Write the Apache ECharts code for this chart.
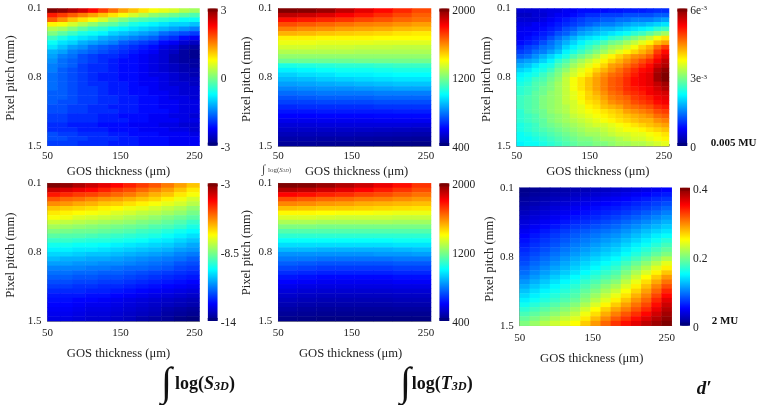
<!DOCTYPE html>
<html><head><meta charset="utf-8">
<style>html,body{margin:0;padding:0;background:#fff}#c{width:763px;height:405px}</style>
<script src="https://cdn.jsdelivr.net/npm/echarts@6/dist/echarts.min.js"></script>
</head><body><div id="c"></div>
<script>
const xTicks=[50,150,250], yTicks=[0.1,0.8,1.5];
const xName='GOS thickness (μm)', yName='Pixel pitch (mm)';
const jet=['#00007f','#0000ff','#007fff','#00ffff','#7fff7f','#ffff00','#ff7f00','#ff0000','#7f0000'];

const logS3DTop=[
[3,2.9,2.7,2.5,2.2,1.9,1.6,1.3,1.1,.9,.7,.6,.5,.3,.2],
[2.1,1.9,1.7,1.5,1.3,1.1,.9,.7,.5,.3,.1,0,-.1,-.2,-.3],
[1.7,1.4,1.1,.9,.7,.5,.2,0,-.2,-.3,-.4,-.5,-.6,-.7,-.7],
[.8,.7,.5,.3,.1,-.1,-.2,-.4,-.6,-.7,-.8,-.9,-1,-1,-1.1],
[.3,.2,0,-.2,-.4,-.5,-.7,-.8,-.9,-1,-1.1,-1.2,-1.3,-1.4,-1.5],
[0,-.2,-.4,-.6,-.7,-.8,-1,-1.1,-1.2,-1.3,-1.4,-1.6,-1.7,-1.8,-1.9],
[-.4,-.6,-.8,-.9,-1,-1.2,-1.3,-1.4,-1.5,-1.6,-1.7,-1.9,-2,-2.2,-2.3],
[-.7,-.9,-1,-1.2,-1.3,-1.4,-1.5,-1.7,-1.8,-1.9,-2,-2.2,-2.3,-2.5,-2.6],
[-.9,-1.1,-1.3,-1.4,-1.6,-1.7,-1.8,-1.9,-2,-2.1,-2.2,-2.4,-2.5,-2.7,-2.8],
[-1.2,-1.3,-1.5,-1.6,-1.7,-1.8,-1.9,-2,-2.1,-2.2,-2.3,-2.5,-2.6,-2.8,-2.9],
[-1.3,-1.5,-1.6,-1.8,-1.9,-2,-2,-2.1,-2.2,-2.3,-2.4,-2.5,-2.7,-2.8,-2.9],
[-1.4,-1.6,-1.7,-1.8,-1.9,-2,-2.1,-2.2,-2.2,-2.3,-2.4,-2.5,-2.7,-2.8,-2.8],
[-1.5,-1.6,-1.7,-1.9,-2,-2,-2.1,-2.2,-2.2,-2.3,-2.4,-2.5,-2.6,-2.7,-2.8],
[-1.5,-1.7,-1.8,-1.9,-2,-2,-2.1,-2.2,-2.2,-2.3,-2.4,-2.5,-2.6,-2.7,-2.7],
[-1.6,-1.7,-1.8,-1.9,-2,-2.1,-2.1,-2.2,-2.2,-2.3,-2.4,-2.4,-2.5,-2.6,-2.7]];
const logS3DLow=[
[-1.6,-1.7,-1.8,-1.9,-2,-2.1,-2.1,-2.2,-2.2,-2.3,-2.3,-2.4,-2.5,-2.6,-2.6],
[-1.6,-1.7,-1.8,-1.9,-2,-2,-2.1,-2.1,-2.2,-2.3,-2.3,-2.4,-2.5,-2.5,-2.6],
[-1.6,-1.7,-1.8,-1.9,-1.9,-2,-2.1,-2.1,-2.2,-2.2,-2.3,-2.4,-2.4,-2.5,-2.5],
[-1.7,-1.7,-1.8,-1.9,-1.9,-2,-2.1,-2.1,-2.2,-2.2,-2.3,-2.3,-2.4,-2.5,-2.5],
[-1.7,-1.7,-1.8,-1.9,-1.9,-2,-2,-2.1,-2.1,-2.2,-2.2,-2.3,-2.4,-2.4,-2.5],
[-1.7,-1.8,-1.8,-1.9,-1.9,-2,-2,-2.1,-2.1,-2.2,-2.2,-2.3,-2.3,-2.4,-2.4],
[-1.8,-1.8,-1.9,-1.9,-2,-2,-2.1,-2.1,-2.1,-2.2,-2.2,-2.3,-2.3,-2.4,-2.4],
[-1.8,-1.8,-1.9,-1.9,-2,-2,-2,-2.1,-2.1,-2.2,-2.2,-2.2,-2.3,-2.4,-2.4],
[-1.9,-1.9,-2,-2,-2,-2.1,-2.1,-2.2,-2.2,-2.2,-2.3,-2.3,-2.4,-2.4,-2.5],
[-1.9,-1.9,-2,-2,-2,-2.1,-2.1,-2.1,-2.2,-2.2,-2.3,-2.3,-2.3,-2.4,-2.4],
[-2,-2,-2.1,-2.1,-2.1,-2.2,-2.2,-2.2,-2.3,-2.3,-2.3,-2.4,-2.4,-2.5,-2.5],
[-2,-2,-2,-2.1,-2.1,-2.1,-2.2,-2.2,-2.2,-2.3,-2.3,-2.3,-2.4,-2.4,-2.5],
[-1.8,-1.9,-1.9,-2,-2,-2,-2.1,-2.1,-2.2,-2.2,-2.2,-2.3,-2.3,-2.3,-2.4],
[-1.8,-1.8,-1.9,-1.9,-2,-2,-2,-2.1,-2.1,-2.2,-2.2,-2.2,-2.3,-2.3,-2.3],
[-1.9,-1.9,-1.9,-2,-2,-2,-2.1,-2.1,-2.1,-2.2,-2.2,-2.2,-2.3,-2.3,-2.3]];
const logT3D=[
[2000,1990,1960,1900,1840,1790,1740,1690],
[1900,1880,1850,1810,1770,1730,1690,1650],
[1780,1760,1740,1720,1690,1670,1640,1620],
[1680,1660,1640,1620,1600,1590,1570,1550],
[1600,1580,1570,1550,1540,1530,1510,1500],
[1520,1510,1490,1480,1470,1460,1440,1430],
[1420,1420,1410,1410,1410,1400,1400,1400],
[1370,1370,1360,1360,1360,1350,1350,1350],
[1330,1330,1320,1320,1310,1310,1300,1300],
[1280,1280,1280,1280,1270,1270,1270,1270],
[1230,1230,1230,1230,1230,1230,1230,1230],
[1170,1170,1170,1170,1180,1180,1180,1180],
[1040,1050,1060,1070,1070,1080,1090,1090],
[980,990,1010,1020,1020,1030,1040,1040],
[930,950,960,980,980,990,1000,1000],
[890,900,920,930,940,950,960,960],
[850,860,870,880,890,900,910,910],
[810,820,830,830,840,850,860,860],
[770,780,790,790,790,800,800,800],
[730,740,750,750,750,760,760,760],
[700,700,710,710,710,720,720,720],
[660,670,670,670,670,680,680,680],
[630,630,640,640,640,640,645,645],
[600,600,605,605,605,610,610,610],
[570,570,575,575,575,580,580,580],
[540,540,545,545,545,545,545,540],
[515,515,515,515,515,510,505,500],
[490,490,490,490,485,480,475,470],
[465,465,460,460,455,450,445,440],
[440,440,435,430,425,420,415,410]];
const scatterMilli=[
[.5,.5,.5,.55,.6,.6,.7,.7,.8,.8,.8,.8,.85,.85,.9,.9,.9,.95,1,1],
[.4,.4,.5,.5,.6,.7,.7,.8,.9,1,1,1.1,1.1,1.1,1.2,1.2,1.2,1.2,1.3,1.3],
[.5,.5,.5,.6,.7,.8,.9,1,1.1,1.2,1.2,1.3,1.3,1.4,1.4,1.5,1.5,1.5,1.6,1.7],
[.6,.6,.7,.7,.8,.9,1,1.1,1.2,1.3,1.4,1.5,1.5,1.6,1.7,1.8,1.8,1.9,2,2.1],
[.65,.7,.7,.8,.9,1,1.2,1.3,1.5,1.6,1.7,1.8,1.8,1.9,2,2.1,2.2,2.3,2.5,2.6],
[.7,.7,.8,.9,1,1.2,1.3,1.5,1.7,1.8,1.9,2,2.1,2.2,2.3,2.5,2.6,2.8,3,3.2],
[.7,.8,.9,1,1.2,1.4,1.6,1.8,2,2.1,2.2,2.3,2.5,2.6,2.8,3,3.2,3.4,3.7,3.9],
[.8,.9,1,1.2,1.4,1.6,1.8,2,2.2,2.4,2.5,2.7,2.9,3,3.2,3.4,3.6,3.8,4.1,4.3],
[.95,1.1,1.2,1.4,1.5,1.7,2,2.2,2.4,2.6,2.8,3,3.2,3.3,3.5,3.7,4,4.2,4.6,4.9],
[1.1,1.2,1.4,1.5,1.7,1.9,2.2,2.4,2.6,2.8,3,3.2,3.4,3.6,3.8,4,4.2,4.4,4.9,5.2],
[1.3,1.4,1.6,1.8,2,2.2,2.4,2.7,2.9,3.1,3.3,3.6,3.8,4,4.2,4.4,4.5,4.7,5.1,5.4],
[1.6,1.7,1.8,2,2.2,2.5,2.7,3,3.2,3.4,3.6,3.8,4,4.2,4.4,4.6,4.8,5,5.3,5.6],
[1.8,1.9,2.1,2.3,2.4,2.7,2.9,3.2,3.4,3.6,3.8,4,4.3,4.4,4.6,4.8,5,5.2,5.5,5.7],
[2,2.1,2.3,2.4,2.6,2.9,3.1,3.4,3.6,3.8,4,4.2,4.4,4.6,4.8,5,5.2,5.3,5.7,5.9],
[2.2,2.3,2.4,2.6,2.8,3,3.3,3.5,3.7,3.9,4.2,4.4,4.6,4.7,4.9,5.1,5.3,5.4,5.8,6],
[2.3,2.4,2.6,2.7,2.9,3.1,3.4,3.7,3.9,4.1,4.3,4.5,4.7,4.8,5,5.2,5.3,5.4,5.8,6],
[2.4,2.5,2.7,2.8,3,3.2,3.4,3.7,3.9,4.1,4.3,4.5,4.7,4.8,5,5.2,5.3,5.4,5.6,5.8],
[2.5,2.6,2.7,2.9,3,3.2,3.4,3.7,3.9,4.1,4.3,4.5,4.7,4.8,5,5.1,5.2,5.3,5.5,5.7],
[2.5,2.6,2.8,2.9,3.1,3.2,3.4,3.6,3.8,4,4.2,4.4,4.6,4.7,4.9,5,5.1,5.3,5.4,5.5],
[2.6,2.7,2.8,3,3.1,3.2,3.4,3.6,3.8,4,4.1,4.3,4.5,4.6,4.7,4.9,5,5.1,5.3,5.4],
[2.6,2.7,2.8,3,3.1,3.2,3.4,3.5,3.7,3.9,4,4.2,4.4,4.5,4.6,4.8,4.9,5,5.2,5.3],
[2.6,2.7,2.8,3,3.1,3.2,3.3,3.5,3.6,3.8,3.9,4.1,4.2,4.3,4.5,4.6,4.7,4.8,5,5.1],
[2.5,2.7,2.8,2.9,3.1,3.2,3.3,3.5,3.6,3.7,3.8,3.9,4,4.1,4.3,4.4,4.5,4.6,4.8,4.9],
[2.5,2.6,2.7,2.9,3,3.1,3.2,3.4,3.5,3.6,3.7,3.8,3.9,4,4.1,4.2,4.3,4.4,4.6,4.7],
[2.5,2.6,2.7,2.8,3,3.1,3.2,3.3,3.4,3.5,3.6,3.7,3.8,3.9,4,4.1,4.2,4.2,4.4,4.5],
[2.4,2.5,2.6,2.8,2.9,3,3.1,3.2,3.3,3.4,3.5,3.5,3.6,3.7,3.8,3.9,4,4.1,4.2,4.3],
[2.4,2.5,2.6,2.7,2.8,2.9,3,3.1,3.2,3.3,3.3,3.4,3.5,3.6,3.7,3.7,3.8,3.9,4,4.1],
[2.3,2.4,2.5,2.6,2.7,2.8,2.9,3,3.1,3.2,3.2,3.3,3.4,3.5,3.5,3.6,3.6,3.7,3.8,3.9],
[2.3,2.3,2.4,2.5,2.6,2.7,2.8,2.9,3,3,3.1,3.2,3.2,3.3,3.4,3.5,3.5,3.6,3.7,3.8],
[2.2,2.3,2.3,2.4,2.5,2.6,2.7,2.8,2.9,2.9,3,3,3.1,3.2,3.2,3.3,3.3,3.4,3.5,3.6]];
const logS3Dint=[
[-3,-3.2,-3.5,-3.8,-4.1,-4.4,-4.7,-5,-5.3,-5.7,-6.1,-6.5],
[-3.8,-4,-4.2,-4.4,-4.7,-5,-5.2,-5.5,-5.8,-6.1,-6.5,-6.9],
[-4.6,-4.8,-5,-5.1,-5.3,-5.5,-5.7,-6,-6.3,-6.5,-6.9,-7.2],
[-5.3,-5.5,-5.6,-5.8,-6,-6.1,-6.3,-6.5,-6.7,-7,-7.3,-7.6],
[-5.9,-6,-6.2,-6.3,-6.5,-6.6,-6.8,-7,-7.2,-7.4,-7.6,-7.9],
[-6.5,-6.6,-6.7,-6.8,-7,-7.1,-7.3,-7.4,-7.6,-7.8,-8,-8.3],
[-6.9,-7,-7.1,-7.2,-7.3,-7.5,-7.6,-7.8,-7.9,-8.1,-8.3,-8.6],
[-7.2,-7.3,-7.5,-7.6,-7.7,-7.8,-8,-8.1,-8.3,-8.5,-8.7,-8.9],
[-7.7,-7.8,-7.9,-8,-8.1,-8.2,-8.3,-8.5,-8.6,-8.8,-9,-9.3],
[-8.1,-8.2,-8.3,-8.4,-8.5,-8.6,-8.7,-8.8,-9,-9.1,-9.3,-9.6],
[-8.5,-8.6,-8.7,-8.7,-8.8,-8.9,-9,-9.2,-9.3,-9.5,-9.7,-9.9],
[-8.9,-9,-9,-9.1,-9.2,-9.3,-9.4,-9.5,-9.6,-9.8,-10,-10.2],
[-9.3,-9.3,-9.4,-9.5,-9.5,-9.6,-9.7,-9.8,-10,-10.1,-10.3,-10.5],
[-9.7,-9.7,-9.8,-9.8,-9.9,-10,-10.1,-10.2,-10.3,-10.4,-10.6,-10.8],
[-10,-10,-10.1,-10.1,-10.2,-10.3,-10.4,-10.5,-10.6,-10.7,-10.9,-11],
[-10.3,-10.3,-10.4,-10.5,-10.5,-10.6,-10.7,-10.8,-10.9,-11,-11.2,-11.3],
[-10.6,-10.7,-10.7,-10.8,-10.8,-10.9,-11,-11.1,-11.2,-11.3,-11.4,-11.6],
[-10.9,-10.9,-11,-11,-11.1,-11.1,-11.2,-11.3,-11.4,-11.5,-11.7,-11.8],
[-11.2,-11.2,-11.2,-11.3,-11.3,-11.4,-11.5,-11.5,-11.6,-11.7,-11.9,-12],
[-11.4,-11.4,-11.5,-11.5,-11.6,-11.6,-11.7,-11.8,-11.9,-12,-12.1,-12.2],
[-11.6,-11.6,-11.7,-11.7,-11.8,-11.8,-11.9,-12,-12.1,-12.2,-12.3,-12.4],
[-11.8,-11.8,-11.9,-11.9,-12,-12,-12.1,-12.2,-12.3,-12.4,-12.5,-12.6],
[-12,-12,-12.1,-12.1,-12.2,-12.2,-12.3,-12.4,-12.5,-12.6,-12.7,-12.8],
[-12.2,-12.2,-12.2,-12.3,-12.3,-12.4,-12.5,-12.6,-12.7,-12.8,-12.9,-13],
[-12.4,-12.4,-12.4,-12.5,-12.5,-12.6,-12.7,-12.8,-12.9,-13,-13.1,-13.2],
[-12.5,-12.5,-12.6,-12.6,-12.7,-12.8,-12.9,-13,-13.1,-13.2,-13.3,-13.4],
[-12.6,-12.6,-12.7,-12.8,-12.8,-12.9,-13,-13.1,-13.2,-13.3,-13.4,-13.5],
[-12.7,-12.7,-12.8,-12.9,-12.9,-13,-13.1,-13.2,-13.3,-13.5,-13.6,-13.7],
[-12.8,-12.8,-12.9,-13,-13,-13.1,-13.2,-13.3,-13.4,-13.6,-13.7,-13.8],
[-12.9,-12.9,-13,-13.1,-13.1,-13.2,-13.3,-13.5,-13.6,-13.7,-13.9,-14]];
const logT3Dint=[
[2000,1990,1960,1920,1880,1830,1780,1720],
[1920,1900,1870,1840,1800,1760,1720,1680],
[1800,1780,1750,1730,1700,1680,1650,1620],
[1680,1660,1640,1630,1610,1600,1580,1560],
[1590,1580,1560,1550,1530,1520,1510,1500],
[1500,1490,1480,1480,1470,1460,1450,1440],
[1410,1410,1400,1390,1390,1380,1370,1370],
[1340,1340,1330,1320,1320,1320,1310,1310],
[1270,1270,1260,1260,1260,1260,1250,1250],
[1200,1200,1190,1190,1190,1190,1190,1190],
[1130,1130,1130,1130,1130,1130,1130,1130],
[1070,1070,1070,1070,1070,1070,1070,1070],
[1010,1010,1010,1010,1010,1010,1020,1020],
[950,950,950,950,950,950,960,960],
[890,890,880,880,880,880,890,900],
[830,830,830,830,830,840,840,850],
[790,790,780,780,780,780,790,790],
[750,740,730,730,730,730,740,740],
[710,700,690,690,690,690,700,700],
[670,660,650,650,650,650,660,660],
[630,620,610,610,610,610,620,620],
[600,590,580,580,580,580,590,590],
[570,560,555,555,555,555,560,560],
[545,535,530,530,530,530,535,535],
[520,510,505,505,505,505,510,510],
[500,490,485,485,485,485,490,490],
[480,470,465,465,465,465,470,470],
[460,450,445,445,445,445,450,450],
[440,435,430,430,430,430,430,430],
[420,415,410,410,410,410,410,410]];
const dPrime=[
[.005,.008,.011,.014,.017,.02,.022,.025,.027,.03,.033,.036,.04,.045,.05],
[.008,.012,.015,.019,.022,.026,.029,.032,.035,.038,.042,.046,.05,.056,.06],
[.012,.016,.02,.024,.028,.032,.036,.039,.043,.046,.05,.055,.06,.066,.07],
[.016,.02,.025,.03,.034,.039,.043,.046,.05,.053,.058,.063,.068,.074,.08],
[.02,.025,.03,.035,.04,.045,.049,.053,.057,.06,.065,.07,.075,.082,.09],
[.025,.03,.035,.04,.045,.05,.055,.059,.063,.067,.072,.078,.085,.092,.1],
[.03,.035,.04,.045,.051,.057,.061,.065,.07,.075,.081,.087,.094,.102,.11],
[.035,.04,.046,.052,.058,.064,.068,.073,.078,.083,.09,.097,.104,.112,.12],
[.04,.046,.052,.058,.065,.072,.076,.081,.086,.091,.099,.106,.114,.122,.13],
[.045,.052,.059,.066,.073,.08,.085,.09,.095,.1,.108,.116,.125,.133,.14],
[.05,.058,.065,.072,.079,.086,.092,.097,.103,.108,.116,.125,.134,.144,.152],
[.055,.063,.07,.077,.084,.092,.098,.104,.11,.116,.125,.134,.144,.155,.165],
[.06,.068,.075,.082,.09,.098,.104,.111,.118,.124,.134,.144,.154,.165,.176],
[.065,.073,.08,.088,.096,.104,.111,.118,.125,.132,.143,.154,.165,.177,.188],
[.07,.078,.086,.094,.102,.11,.118,.125,.133,.14,.152,.163,.175,.188,.2],
[.075,.084,.092,.1,.109,.118,.126,.134,.142,.15,.163,.176,.19,.205,.22],
[.08,.09,.098,.107,.116,.125,.134,.142,.151,.16,.175,.19,.205,.222,.24],
[.087,.096,.105,.114,.122,.132,.141,.15,.16,.17,.187,.203,.22,.238,.255],
[.093,.103,.112,.121,.13,.14,.15,.16,.17,.18,.199,.217,.235,.254,.272],
[.1,.11,.12,.13,.14,.15,.16,.17,.18,.19,.21,.23,.25,.27,.29],
[.109,.119,.129,.139,.149,.158,.17,.18,.192,.203,.224,.243,.263,.284,.305],
[.118,.128,.138,.148,.158,.167,.179,.19,.204,.216,.236,.255,.275,.298,.32],
[.127,.137,.147,.156,.165,.175,.188,.2,.215,.229,.248,.267,.287,.31,.335],
[.136,.145,.155,.164,.173,.182,.197,.211,.227,.242,.26,.28,.299,.323,.348],
[.145,.154,.163,.172,.181,.19,.205,.222,.238,.255,.273,.292,.31,.335,.36],
[.156,.165,.174,.183,.192,.202,.218,.236,.253,.27,.287,.305,.322,.346,.37],
[.167,.176,.185,.194,.203,.214,.232,.25,.268,.285,.3,.317,.334,.357,.378],
[.178,.187,.196,.205,.215,.226,.245,.263,.282,.3,.316,.332,.349,.368,.386],
[.189,.198,.208,.218,.228,.238,.258,.277,.296,.315,.33,.346,.362,.378,.393],
[.2,.21,.22,.23,.24,.25,.27,.29,.31,.33,.345,.36,.375,.388,.4]];

const panels=[
 {rows:logS3DTop.concat(logS3DLow),min:-3,max:3,cb:[3,0,-3],l:47.5,r:199.5,t:8.5,b:145.7,cl:207.7,xm:5,xg:19,yg:30,xs:-5,yp:2},
 {rows:logT3D,min:400,max:2000,cb:[2000,1200,400],l:278.3,r:431,t:8.5,b:146,cl:439.3,xm:5,xg:19,yg:25,xs:2,yp:4},
 {rows:scatterMilli,min:0,max:6,cb:[6,3,0],sup:true,l:516.7,r:669,t:8.5,b:146,cl:677.3,xm:5,xg:19,yg:20,xs:5,yp:4,ticks:true},
 {rows:logS3Dint,min:-14,max:-3,cb:[-3,-8.5,-14],l:47.5,r:199.5,t:183.3,b:321,cl:207.7,xm:7,xg:26,yg:30,xs:-5,yp:6},
 {rows:logT3Dint,min:400,max:2000,cb:[2000,1200,400],l:278.3,r:431,t:183.3,b:321,cl:439.3,xm:7,xg:26,yg:25,xs:-4,yp:1},
 {rows:dPrime,min:0,max:.4,cb:[.4,.2,0],l:519.7,r:671.7,t:187.7,b:325.7,cl:680,xm:7,xg:26,yg:23,xs:-4,yp:5}
];
const serif='"Liberation Serif","Times New Roman",serif', ink='#222', edge='#8a8a8a';
const grid=[],xAxis=[],yAxis=[],series=[],visualMap=[],barEnds=[];
panels.forEach((p,i)=>{
  const H=p.b-p.t, W=p.r-p.l, nc=p.rows[0].length, nr=p.rows.length;
  const g=grid.length;
  grid.push({left:p.l,top:p.t,width:W,height:H,containLabel:false});
  const xi=xAxis.length, yi=yAxis.length;
  xAxis.push({gridIndex:g,type:'category',show:false,data:Array.from({length:nc},(_,k)=>k)});
  yAxis.push({gridIndex:g,type:'category',show:false,inverse:true,data:Array.from({length:nr},(_,k)=>k)});
  xAxis.push({gridIndex:g,type:'value',min:50,max:250,position:'bottom',splitLine:{show:false},
    axisLine:{show:true,lineStyle:{color:edge,width:1}},
    axisTick:{show:!!p.ticks,inside:true,length:2,lineStyle:{color:edge},customValues:[50,100,150,200,250]},
    axisLabel:{customValues:xTicks,hideOverlap:false,margin:p.xm,fontFamily:serif,fontSize:11,color:ink,
      formatter:v=>v==150?'{m|150}':v==250?'{e|250}':'50',
      rich:{m:{padding:[0,6,0,0],fontFamily:serif,fontSize:11,color:ink},e:{padding:[0,10,0,0],fontFamily:serif,fontSize:11,color:ink}}},
    name:xName,nameLocation:'middle',nameGap:p.xg,
    nameTextStyle:{fontFamily:serif,fontSize:12.6,color:ink,padding:p.xs<0?[0,-2*p.xs,0,0]:[0,0,0,2*p.xs]}});
  yAxis.push({gridIndex:g,type:'value',min:0.1,max:1.5,inverse:true,position:'left',splitLine:{show:false},
    axisLine:{show:true,lineStyle:{color:edge,width:1}},axisTick:{show:false,customValues:yTicks},
    axisLabel:{customValues:yTicks,hideOverlap:false,margin:6,fontFamily:serif,fontSize:11,color:ink,formatter:v=>String(v)},
    name:yName,nameLocation:'middle',nameGap:p.yg,nameRotate:90,
    nameTextStyle:{fontFamily:serif,fontSize:12.6,color:ink,padding:[0,p.yp,0,0]}});
  const data=[];p.rows.forEach((row,r)=>row.forEach((v,c)=>data.push([c,r,v])));
  series.push({type:'heatmap',xAxisIndex:xi,yAxisIndex:yi,data,silent:true,progressive:0,emphasis:{disabled:true},itemStyle:{borderWidth:0}});
  visualMap.push({type:'continuous',seriesIndex:i,dimension:2,min:p.min,max:p.max,inRange:{color:jet},calculable:false,
    itemWidth:10,itemHeight:H,left:p.cl,top:p.t,padding:0,text:null,orient:'vertical',hoverLink:false,textStyle:{fontSize:0}});
  barEnds.push({type:'rect',z:20,shape:{x:p.cl,y:p.t,width:10,height:3},style:{fill:jet[8]}});
  barEnds.push({type:'rect',z:20,shape:{x:p.cl,y:p.b-3,width:10,height:3},style:{fill:jet[0]}});
  const g2=grid.length;
  grid.push({left:p.cl,top:p.t+2,width:10,height:H});
  xAxis.push({gridIndex:g2,type:'value',show:false,min:0,max:1});
  yAxis.push({gridIndex:g2,type:'value',min:p.min,max:p.max,position:'right',splitLine:{show:false},
    axisLine:{show:false},axisTick:{show:false},
    axisLabel:{customValues:p.cb,hideOverlap:false,margin:3,fontFamily:serif,fontSize:11.5,color:ink,
      formatter:v=>p.sup?(v?v+'e{s|-3}':'0'):String(v),
      rich:{s:{fontFamily:serif,fontSize:7,color:ink,verticalAlign:'top'}}}});
});
const T=(x,y,text,fs,extra)=>({type:'text',x,y,style:Object.assign({text,fontFamily:serif,fontSize:fs,fill:'#111',verticalAlign:'middle'},extra||{})});
const mathRich=(fs)=>({a:{fontFamily:serif,fontSize:fs,fontWeight:'bold',fill:'#111'},b:{fontFamily:serif,fontSize:fs,fontWeight:'bold',fontStyle:'italic',fill:'#111'},c:{fontFamily:serif,fontSize:fs*.68,fontWeight:'bold',fontStyle:'italic',fill:'#111',verticalAlign:'bottom'}});
const graphic=barEnds.concat([
 T(710.7,143,'0.005 MU',11,{fontWeight:'bold'}),
 T(711.7,320.7,'2 MU',11,{fontWeight:'bold'}),
 T(161,384,'∫',40,{}),
 T(175,384,'{a|log(}{b|S}{c|3D}{a|)}',18,{rich:mathRich(18)}),
 T(400,384,'∫',40,{}),
 T(411.7,384,'{a|log(}{b|T}{c|3D}{a|)}',18,{rich:mathRich(18)}),
 T(696.7,389,"d′",19,{fontWeight:'bold',fontStyle:'italic'}),
 T(262,170,'∫',12,{fill:'#444'}),
 T(268,170,'{a|log(}{b|S}{c|3D}{a|)}',7,{rich:{a:{fontFamily:serif,fontSize:7,fill:'#444'},b:{fontFamily:serif,fontSize:7,fontStyle:'italic',fill:'#444'},c:{fontFamily:serif,fontSize:5,fontStyle:'italic',fill:'#444',verticalAlign:'bottom'}}})
]);
const chart=echarts.init(document.getElementById('c'),null,{renderer:'canvas'});
chart.setOption({animation:false,backgroundColor:'#fff',tooltip:{show:false},grid,xAxis,yAxis,series,visualMap,graphic});
</script></body></html>
